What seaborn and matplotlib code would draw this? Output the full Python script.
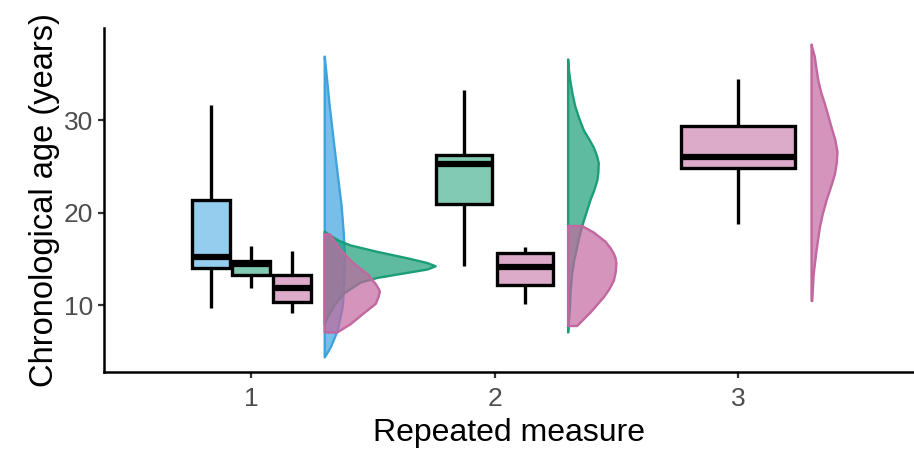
#!/usr/bin/env python3
"""Raincloud-style plot: chronological age by repeated measure."""

import numpy as np
import pandas as pd
import matplotlib
matplotlib.use("Agg")
import matplotlib.pyplot as plt
from matplotlib.colors import to_rgb, to_rgba
import seaborn as sns

# Box summaries (whisker low, Q1, median, Q3, whisker high)
box_measure = [1, 1, 1, 2, 2, 3]
box_group = ["A", "B", "C", "B", "C", "C"]
box_low = [9.7, 11.9, 9.2, 14.2, 10.1, 18.8]
box_q1 = [14.0, 13.3, 10.3, 20.9, 12.2, 24.8]
box_med = [15.2, 14.4, 11.8, 25.3, 14.1, 26.0]
box_q3 = [21.4, 14.8, 13.3, 26.2, 15.6, 29.4]
box_high = [31.6, 16.4, 15.8, 33.2, 16.3, 34.4]

# Density curves (age, density)
blue1_age = [36.9, 35.0, 31.5, 27.8, 24.2, 20.7, 17.7, 15.3, 11.6, 9.9, 7.3, 5.5, 4.4]
blue1_dens = [0.000, 0.005, 0.014, 0.025, 0.036, 0.047, 0.053, 0.056, 0.053, 0.050, 0.036, 0.017, 0.000]

green1_age = [18.0, 17.6, 17.0, 16.5, 15.8, 15.1, 14.6, 14.25, 13.9, 13.6, 13.0, 12.5, 11.3, 9.9, 8.7, 8.0]
green1_dens = [0.000, 0.014, 0.040, 0.072, 0.147, 0.231, 0.285, 0.308, 0.285, 0.239, 0.147, 0.100, 0.053, 0.025, 0.008, 0.000]

pink1_age = [17.7, 16.9, 16.0, 14.55, 13.4, 12.3, 11.8, 11.5, 11.0, 10.2, 9.15, 8.0, 7.1]
pink1_dens = [0.015, 0.028, 0.044, 0.081, 0.119, 0.142, 0.150, 0.153, 0.150, 0.142, 0.108, 0.072, 0.035]

green2_age = [36.6, 35.5, 34.3, 32.9, 31.5, 30.2, 28.9, 28.0, 27.1, 26.2, 25.4, 24.4, 23.5, 22.4,
              21.4, 20.3, 19.2, 17.9, 16.3, 14.9, 13.4, 11.6, 9.9, 7.1]
green2_dens = [0.000, 0.002, 0.006, 0.012, 0.020, 0.031, 0.044, 0.058, 0.071, 0.080, 0.085, 0.084,
               0.081, 0.072, 0.062, 0.053, 0.044, 0.034, 0.025, 0.017, 0.011, 0.007, 0.005, 0.000]

pink2_age = [18.6, 17.9, 16.9, 16.2, 15.6, 15.1, 14.55, 13.6, 12.7, 11.8, 10.9, 10.1, 9.25, 7.8]
pink2_dens = [0.039, 0.071, 0.104, 0.118, 0.127, 0.132, 0.134, 0.132, 0.127, 0.115, 0.099, 0.081, 0.062, 0.025]

pink3_age = [38.2, 37.6, 36.9, 35.5, 34.3, 33.0, 31.8, 30.45, 29.2, 27.9, 26.6, 25.4, 24.2, 22.8,
             21.4, 19.85, 18.4, 16.0, 13.4, 10.5]
pink3_dens = [0.000, 0.004, 0.009, 0.014, 0.019, 0.027, 0.037, 0.047, 0.056, 0.066, 0.072, 0.070,
              0.065, 0.054, 0.042, 0.031, 0.023, 0.014, 0.006, 0.002]

line_colors = {"A": "#3DA4DF", "B": "#1B9E77", "C": "#C2679F"}


def lighten(color, alpha):
    rgb = np.array(to_rgb(color))
    return tuple(1 - alpha * (1 - rgb))


box_colors = {g: lighten(c, 0.55) for g, c in line_colors.items()}

sns.set_theme(style="ticks")
plt.rcParams["font.family"] = ["Liberation Sans", "DejaVu Sans"]

fig, ax = plt.subplots(figsize=(9.14, 4.5), dpi=100)
fig.subplots_adjust(left=0.114, right=1.0, bottom=0.173, top=0.938)

# Half violins, drawn beside each measure
violins = [
    (1, "A", blue1_age, blue1_dens),
    (1, "B", green1_age, green1_dens),
    (1, "C", pink1_age, pink1_dens),
    (2, "B", green2_age, green2_dens),
    (2, "C", pink2_age, pink2_dens),
    (3, "C", pink3_age, pink3_dens),
]
nudge = 0.30
dens_scale = 1.48
for m, g, age, dens in violins:
    base = m + nudge
    ax.fill_betweenx(age, base, base + np.array(dens) * dens_scale,
                     facecolor=to_rgba(line_colors[g], 0.7),
                     edgecolor=line_colors[g], linewidth=1.7,
                     joinstyle="round", zorder=2)

# Boxes: five summary values per box so the quartiles match the chart
rows = []
for m, g, lo, q1, md, q3, hi in zip(box_measure, box_group, box_low, box_q1,
                                    box_med, box_q3, box_high):
    for v in (lo, q1, md, q3, hi):
        rows.append({"measure": m, "group": g, "age": v})
df = pd.DataFrame(rows)

total_width = 0.5
for m in sorted(set(box_measure)):
    sub = df[df["measure"] == m].copy()
    present = [g for g in ["A", "B", "C"] if g in set(sub["group"])]
    n = len(present)
    slot = total_width / n
    offsets = {g: (i - (n - 1) / 2) * slot for i, g in enumerate(present)}
    sub["pos"] = sub["measure"] + sub["group"].map(offsets)
    native_w = slot if n > 1 else 1.0
    sns.boxplot(data=sub, x="pos", y="age", hue="group", palette=box_colors,
                native_scale=True, dodge=False, width=0.93 * slot / native_w,
                linecolor="black", linewidth=2.4, showcaps=False,
                showfliers=False, saturation=1,
                medianprops={"linewidth": 4.5}, legend=False, ax=ax)

ax.set_xlim(0.396, 3.723)
ax.set_ylim(2.76, 39.95)
ax.set_xticks([1, 2, 3])
ax.set_xticklabels(["1", "2", "3"])
ax.set_yticks([10, 20, 30])

sns.despine(ax=ax)
for side in ["left", "bottom"]:
    ax.spines[side].set_linewidth(1.8)
    ax.spines[side].set_color("black")
ax.tick_params(axis="both", length=4, width=1.6, color="#333333",
               labelsize=19, labelcolor="#4D4D4D", pad=4)
ax.tick_params(axis="x", pad=7)
ax.set_xlabel("Repeated measure", fontsize=23, color="black", labelpad=5)
ax.set_ylabel("Chronological age (years)", fontsize=23.5, color="black", labelpad=3)

plt.savefig("out.png", dpi=100)
plt.close()
